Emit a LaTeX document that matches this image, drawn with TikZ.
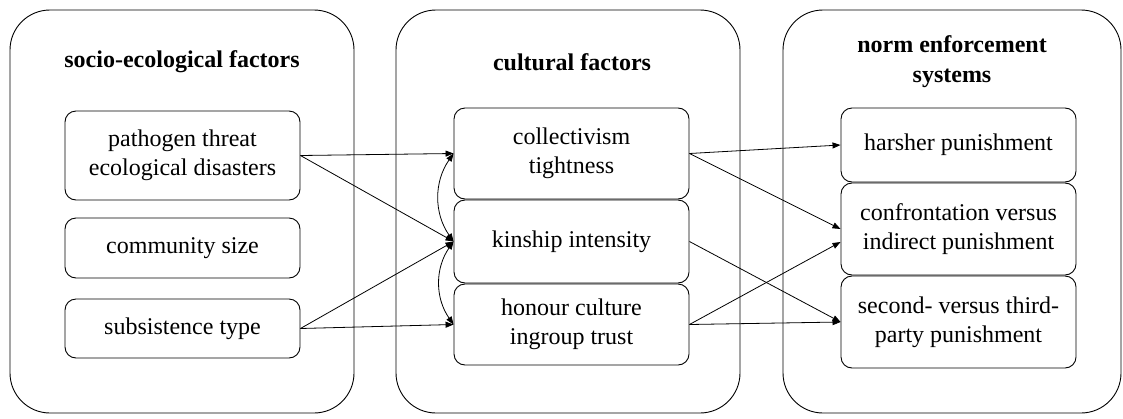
\documentclass[tikz,border=0pt]{standalone}
\usepackage{fontspec}
\setmainfont{Liberation Serif}
\usetikzlibrary{arrows.meta}
\begin{document}
\begin{tikzpicture}[x=1pt,y=-1pt,
  outer/.style={draw,line width=0.9pt,rounded corners=40pt},
  inbox/.style={draw,line width=0.9pt,rounded corners=11pt,minimum width=235pt,align=center,inner sep=0pt,font=\fontsize{24}{29}\selectfont},
  ttl/.style={align=center,font=\fontsize{24}{30}\selectfont\bfseries},
  arr/.style={-{Triangle[length=8pt,width=6pt]},line width=0.8pt},
  darr/.style={{Triangle[length=8pt,width=6pt]}-{Triangle[length=8pt,width=6pt]},line width=0.8pt}]
\useasboundingbox (0,0) rectangle (1123,418);
\draw[outer] (10,10) rectangle (354,413);
\draw[outer] (396,10) rectangle (740,413);
\draw[outer] (783,10) rectangle (1121,413);
\node[ttl] (t1) at (182,62) {socio-ecological factors};
\node[ttl] (t2) at (572,62) {cultural factors};
\node[ttl] (t3) at (952,62) {norm enforcement\\systems};
\node[inbox,minimum height=89pt] (L1) at (182.5,155.5) {pathogen threat\\ecological disasters};
\node[inbox,minimum height=60pt] (L2) at (182.5,248) {community size};
\node[inbox,minimum height=59pt] (L3) at (182.5,328.5) {subsistence type};
\node[inbox,minimum height=91pt] (M1) at (571.5,153.5) {collectivism\\tightness};
\node[inbox,minimum height=83pt] (M2) at (571.5,241.5) {kinship intensity};
\node[inbox,minimum height=81pt] (M3) at (571.5,324.5) {honour culture\\ingroup trust};
\node[inbox,minimum height=74pt] (R1) at (958.5,145) {harsher punishment};
\node[inbox,minimum height=92pt] (R2) at (958.5,229) {confrontation versus\\indirect punishment};
\node[inbox,minimum height=92pt] (R3) at (958.5,322) {second- versus third-\\party punishment};
\draw[arr] (L1.east) -- (M1.west);
\draw[arr] (L1.east) -- (M2.west);
\draw[arr] (L3.east) -- (M2.west);
\draw[arr] (L3.east) -- (M3.west);
\draw[darr] (M1.west) to[bend right=35] (M2.west);
\draw[darr] (M2.west) to[bend right=35] (M3.west);
\draw[arr] (M1.east) -- (R1.west);
\draw[arr] (M1.east) -- (R2.west);
\draw[arr] (M2.east) -- (R3.west);
\draw[arr] (M3.east) -- ([yshift=-13pt]R2.west);
\draw[arr] (M3.east) -- (R3.west);
\end{tikzpicture}
\end{document}
